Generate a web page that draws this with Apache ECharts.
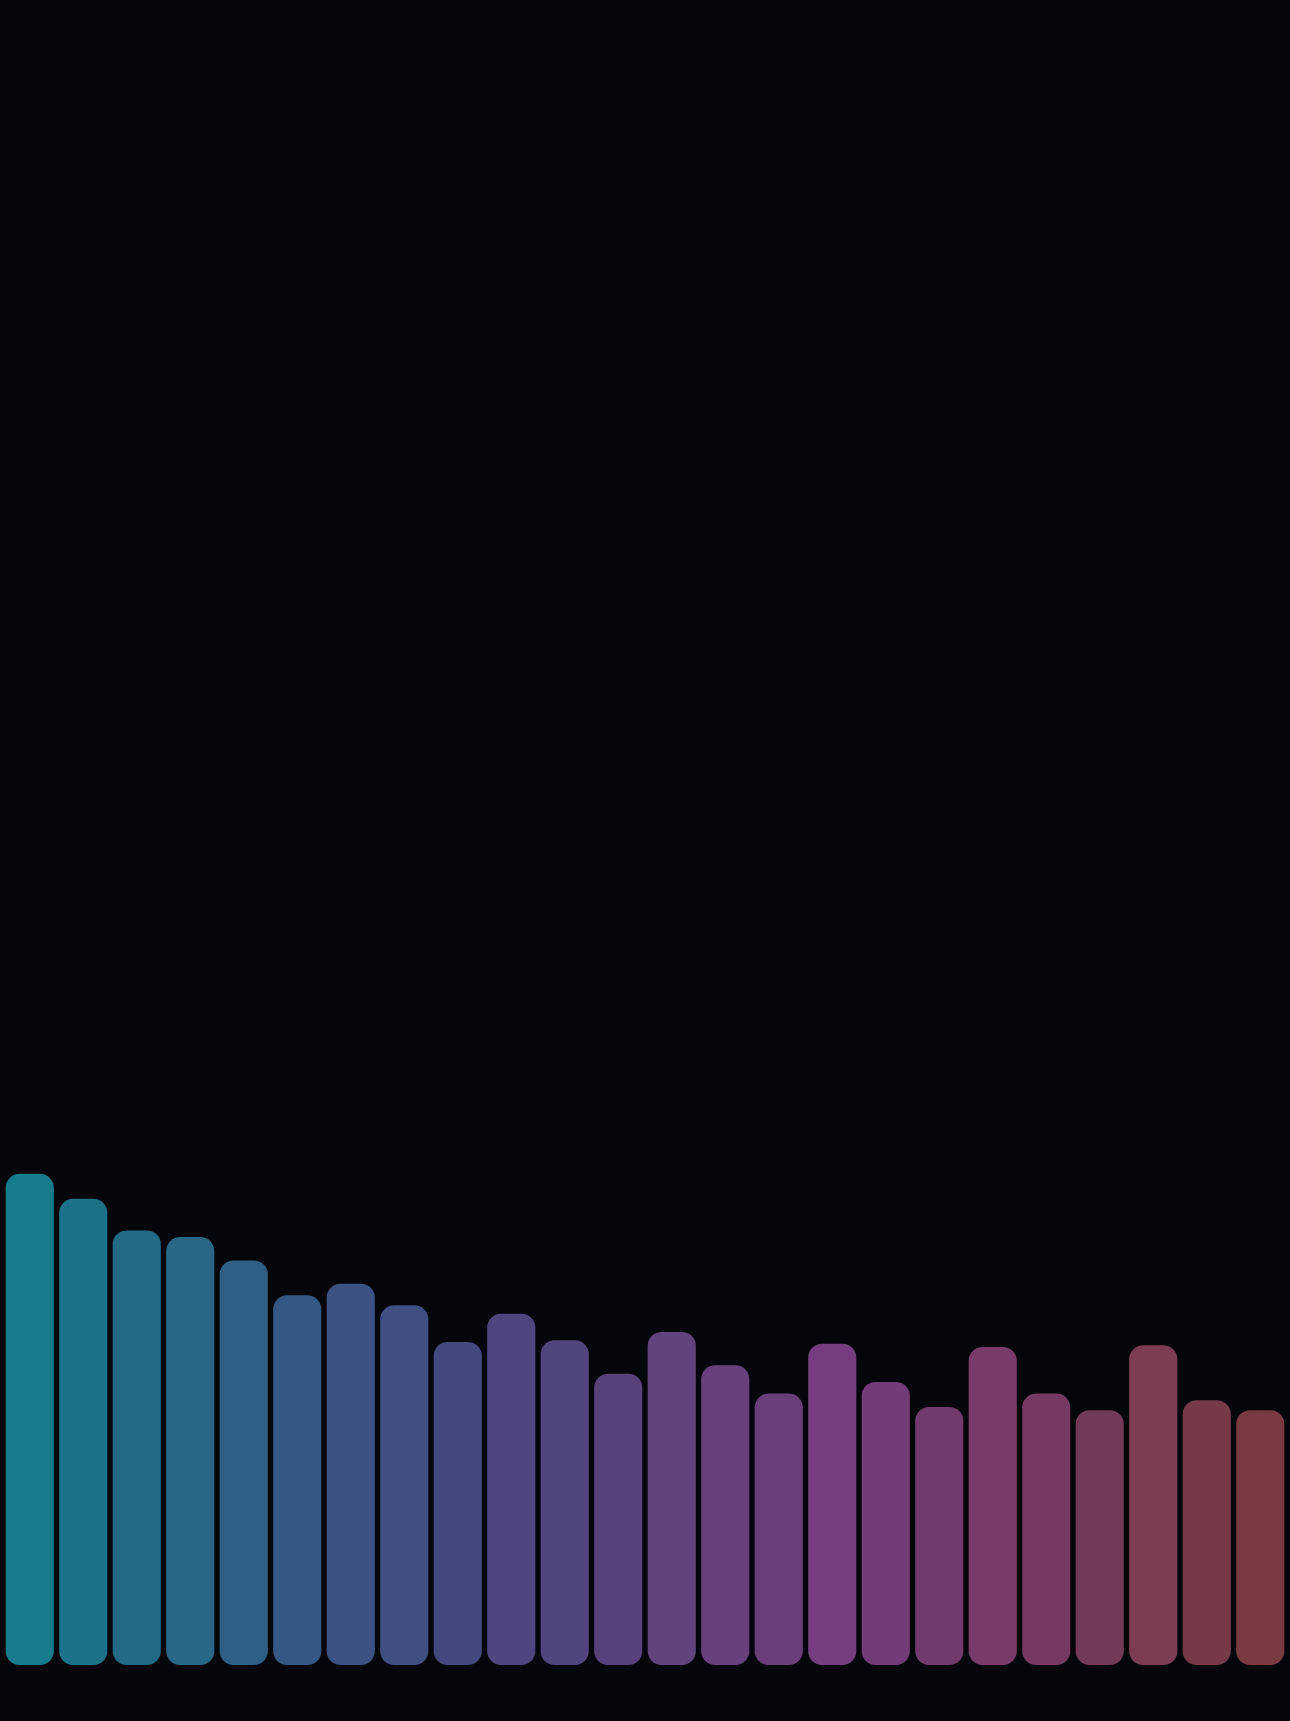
<!DOCTYPE html>
<html>
<head>
<meta charset="utf-8">
<script src="https://cdn.jsdelivr.net/npm/echarts@6/dist/echarts.min.js"></script>
<style>
  html, body { margin: 0; padding: 0; background: #05060b; }
  #chart { width: 1290px; height: 1721px; }
</style>
</head>
<body>
<div id="chart"></div>
<script>
const categories = ['1','2','3','4','5','6','7','8','9','10','11','12','13','14','15','16','17','18','19','20','21','22','23','24'];
const values = [29.5, 28.0, 26.1, 25.7, 24.3, 22.2, 22.9, 21.6, 19.4, 21.1, 19.5, 17.5, 20.0, 18.0, 16.3, 19.3, 17.0, 15.5, 19.1, 16.3, 15.3, 19.2, 15.9, 15.3];
const barColors = [
  '#167b8c', '#1c7288', '#226a86', '#2a6686', '#2e6085', '#335883',
  '#3b5283', '#414e82', '#43487e', '#4c487f', '#52457d', '#58417b',
  '#61437e', '#67407d', '#6a3e7a', '#753d7f', '#733c79', '#703b6c',
  '#793c6a', '#763a62', '#733a57', '#7c3c55', '#753948', '#7a3a42'
];

const chart = echarts.init(document.getElementById('chart'));

chart.setOption({
  backgroundColor: '#05060b',
  animation: false,
  grid: { top: 0, left: 3, right: 3, bottom: 56 },
  xAxis: {
    type: 'category',
    data: categories,
    show: false
  },
  yAxis: {
    type: 'value',
    min: 0,
    max: 100,
    show: false
  },
  series: [{
    type: 'bar',
    barCategoryGap: '10%',
    data: values.map((v, i) => ({
      value: v,
      itemStyle: { color: barColors[i] }
    })),
    itemStyle: { borderRadius: 14 }
  }]
});
</script>
</body>
</html>
